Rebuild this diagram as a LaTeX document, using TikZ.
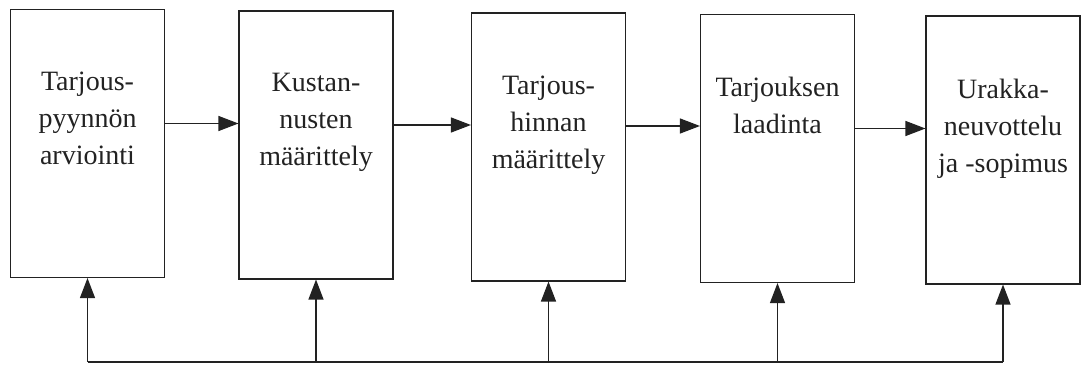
\documentclass[tikz,border=0pt]{standalone}
\usepackage{fontspec}
\setmainfont{Liberation Serif}
\usetikzlibrary{arrows.meta}
\definecolor{ink}{HTML}{222222}
\tikzset{
  stagebox/.style={draw=ink, line width=1.1pt, minimum width=154pt, minimum height=268pt, inner sep=0pt},
  stagetext/.style={anchor=north, align=center, inner sep=0pt, text=ink, font=\fontsize{28}{37}\selectfont},
  flow/.style={draw=ink, line width=1.2pt, -{Triangle[length=20pt,width=15pt]}},
  plainline/.style={draw=ink, line width=1.2pt}
}
\begin{document}
\begin{tikzpicture}
\useasboundingbox (0pt,0pt) rectangle (1081pt,367pt);
\node[stagebox] (b1) at (87.5pt,223.5pt) {};
\node[stagebox] (b2) at (316pt,222pt) {};
\node[stagebox] (b3) at (548.5pt,220pt) {};
\node[stagebox] (b4) at (777.5pt,218.5pt) {};
\node[stagebox] (b5) at (1003pt,217pt) {};

\node[stagetext] (t1) at ([yshift=-63pt]b1.north) {Tarjous-\\pyynnön\\arviointi};
\node[stagetext] (t2) at ([yshift=-63pt]b2.north) {Kustan-\\nusten\\määrittely};
\node[stagetext] (t3) at ([yshift=-63pt]b3.north) {Tarjous-\\hinnan\\määrittely};
\node[stagetext] (t4) at ([yshift=-63pt]b4.north) {Tarjouksen\\laadinta};
\node[stagetext] (t5) at ([yshift=-63pt]b5.north) {Urakka-\\neuvottelu\\ja -sopimus};

\draw[flow] ([yshift=20pt]b1.east) -- ([yshift=20pt]b1.east -| b2.west);
\draw[flow] ([yshift=20pt]b2.east) -- ([yshift=20pt]b2.east -| b3.west);
\draw[flow] ([yshift=21pt]b3.east) -- ([yshift=21pt]b3.east -| b4.west);
\draw[flow] ([yshift=20pt]b4.east) -- ([yshift=20pt]b4.east -| b5.west);

\coordinate (fb) at (0pt,5pt);
\draw[plainline] (b1.south |- fb) -- (b5.south |- fb);
\draw[flow] (b1.south |- fb) -- (b1.south);
\draw[flow] (b2.south |- fb) -- (b2.south);
\draw[flow] (b3.south |- fb) -- (b3.south);
\draw[flow] (b4.south |- fb) -- (b4.south);
\draw[flow] (b5.south |- fb) -- (b5.south);
\end{tikzpicture}
\end{document}
